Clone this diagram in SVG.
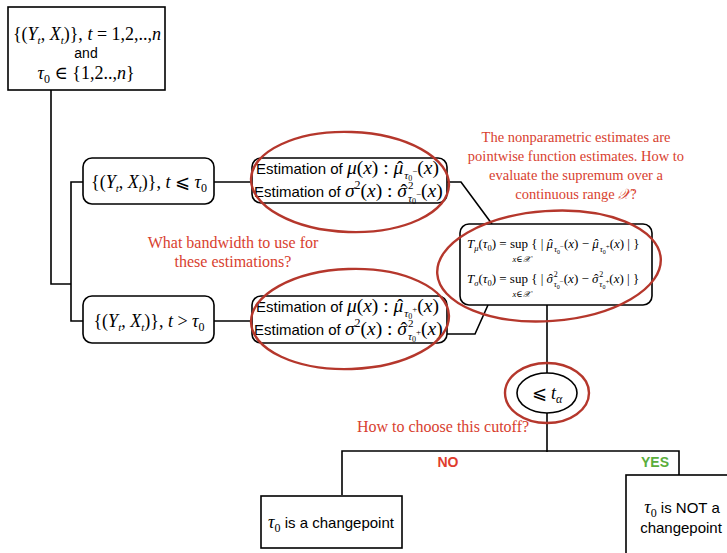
<svg xmlns="http://www.w3.org/2000/svg" width="727" height="553" viewBox="0 0 727 553">
<style>
.box{fill:#fff;stroke:#000;stroke-width:1.6}
.ln{fill:none;stroke:#000;stroke-width:1.6}
.red{fill:none;stroke:#b5372c;stroke-width:2.4}
.s{font-family:"Liberation Sans",Arial,sans-serif}
.r{font-family:"Liberation Serif","DejaVu Serif",serif;font-style:normal}
.m{font-family:"Liberation Serif","DejaVu Serif",serif;font-style:italic}
.note{font-family:"Liberation Serif","DejaVu Serif",serif;font-size:14.5px;fill:#d8412f;text-anchor:middle}
.note2{font-family:"Liberation Serif","DejaVu Serif",serif;font-size:16px;fill:#d8412f;text-anchor:middle}
</style>
<rect width="727" height="553" fill="#fff"/>
<g id="connectors">
<path class="ln" d="M51,90 V284 H71"/>
<path class="ln" d="M83,182 H71 V321 H83"/>
<path class="ln" d="M214,182 H252"/>
<path class="ln" d="M214,321 H252"/>
<path class="ln" d="M447,182 H461 L492,224"/>
<path class="ln" d="M447,334 H475 L488,305"/>
<path class="ln" d="M547,305 V373"/>
<path class="ln" d="M547,413 V452"/>
<path class="ln" d="M342,495 V451 H679 V475"/>
</g>
<g id="start">
<rect class="box" x="8" y="7" width="157" height="83"/>
<text x="87" y="40" text-anchor="middle" class="r" font-size="18">{(<tspan class="m">Y</tspan><tspan class="m" font-size="11" dy="4">t</tspan><tspan dy="-4">, </tspan><tspan class="m">X</tspan><tspan class="m" font-size="11" dy="4">t</tspan><tspan dy="-4">)}, </tspan><tspan class="m">t</tspan> = 1,2,..,<tspan class="m">n</tspan></text>
<text x="86" y="58" text-anchor="middle" class="s" font-size="14">and</text>
<text x="86" y="79" text-anchor="middle" class="r" font-size="18"><tspan class="m">τ</tspan><tspan font-size="12" dy="4">0</tspan><tspan dy="-4"> ∈ {1,2..,</tspan><tspan class="m">n</tspan>}</text>
</g>
<g id="before">
<rect class="box" x="83" y="158" width="131" height="46" rx="9"/>
<text x="149" y="188" text-anchor="middle" class="r" font-size="18">{(<tspan class="m">Y</tspan><tspan class="m" font-size="11" dy="4">t</tspan><tspan dy="-4">, </tspan><tspan class="m">X</tspan><tspan class="m" font-size="11" dy="4">t</tspan><tspan dy="-4">)}, </tspan><tspan class="m">t</tspan> ⩽ <tspan class="m">τ</tspan><tspan font-size="12" dy="4">0</tspan></text>
</g>
<g id="after">
<rect class="box" x="83" y="296" width="131" height="47" rx="9"/>
<text x="149" y="327" text-anchor="middle" class="r" font-size="18">{(<tspan class="m">Y</tspan><tspan class="m" font-size="11" dy="4">t</tspan><tspan dy="-4">, </tspan><tspan class="m">X</tspan><tspan class="m" font-size="11" dy="4">t</tspan><tspan dy="-4">)}, </tspan><tspan class="m">t</tspan> &gt; <tspan class="m">τ</tspan><tspan font-size="12" dy="4">0</tspan></text>
</g>
<g id="est-before">
<rect class="box" x="252" y="158" width="195" height="45" rx="9"/>
<text x="256" y="174" class="s" font-size="15">Estimation of <tspan class="m" font-size="19.5">μ</tspan><tspan class="r" font-size="19.5">(</tspan><tspan class="m" font-size="19.5">x</tspan><tspan class="r" font-size="19.5">) : </tspan><tspan class="m" font-size="19.5">μ</tspan><tspan class="r" font-size="19.5" dx="-6.5">ˆ</tspan><tspan class="m" font-size="11" dx="1" dy="5">τ</tspan><tspan class="r" font-size="8" dy="2">0</tspan><tspan class="r" font-size="9" dy="-7">−</tspan><tspan class="r" font-size="19.5">(</tspan><tspan class="m" font-size="19.5">x</tspan><tspan class="r" font-size="19.5">)</tspan></text>
<text x="254" y="197" class="s" font-size="15">Estimation of <tspan class="m" font-size="19.5">σ</tspan><tspan class="r" font-size="12" dy="-8">2</tspan><tspan class="r" font-size="19.5" dy="8">(</tspan><tspan class="m" font-size="19.5">x</tspan><tspan class="r" font-size="19.5">) : </tspan><tspan class="m" font-size="19.5">σ</tspan><tspan class="r" font-size="19.5" dx="-6.5">ˆ</tspan><tspan class="r" font-size="11" dx="1" dy="-8">2</tspan><tspan class="m" font-size="11" dx="-5.5" dy="13">τ</tspan><tspan class="r" font-size="8" dy="2">0</tspan><tspan class="r" font-size="9" dy="-7">−</tspan><tspan class="r" font-size="19.5">(</tspan><tspan class="m" font-size="19.5">x</tspan><tspan class="r" font-size="19.5">)</tspan></text>
</g>
<g id="est-after">
<rect class="box" x="252" y="296" width="195" height="47" rx="9"/>
<text x="256" y="312" class="s" font-size="15">Estimation of <tspan class="m" font-size="19.5">μ</tspan><tspan class="r" font-size="19.5">(</tspan><tspan class="m" font-size="19.5">x</tspan><tspan class="r" font-size="19.5">) : </tspan><tspan class="m" font-size="19.5">μ</tspan><tspan class="r" font-size="19.5" dx="-6.5">ˆ</tspan><tspan class="m" font-size="11" dx="1" dy="5">τ</tspan><tspan class="r" font-size="8" dy="2">0</tspan><tspan class="r" font-size="9" dy="-7">+</tspan><tspan class="r" font-size="19.5">(</tspan><tspan class="m" font-size="19.5">x</tspan><tspan class="r" font-size="19.5">)</tspan></text>
<text x="254" y="335" class="s" font-size="15">Estimation of <tspan class="m" font-size="19.5">σ</tspan><tspan class="r" font-size="12" dy="-8">2</tspan><tspan class="r" font-size="19.5" dy="8">(</tspan><tspan class="m" font-size="19.5">x</tspan><tspan class="r" font-size="19.5">) : </tspan><tspan class="m" font-size="19.5">σ</tspan><tspan class="r" font-size="19.5" dx="-6.5">ˆ</tspan><tspan class="r" font-size="11" dx="1" dy="-8">2</tspan><tspan class="m" font-size="11" dx="-5.5" dy="13">τ</tspan><tspan class="r" font-size="8" dy="2">0</tspan><tspan class="r" font-size="9" dy="-7">+</tspan><tspan class="r" font-size="19.5">(</tspan><tspan class="m" font-size="19.5">x</tspan><tspan class="r" font-size="19.5">)</tspan></text>
</g>
<g id="stats">
<rect class="box" x="460" y="224" width="192" height="81" rx="9"/>
<text x="467" y="248" class="r" font-size="13"><tspan class="m">T</tspan><tspan class="m" font-size="8.5" dy="3">μ</tspan><tspan dy="-3">(</tspan><tspan class="m">τ</tspan><tspan font-size="8.5" dy="3">0</tspan><tspan dy="-3">) = sup { | </tspan><tspan class="m">μ</tspan><tspan dx="-4.5">ˆ</tspan><tspan class="m" font-size="8.5" dx="1" dy="4">τ</tspan><tspan font-size="6" dy="2">0</tspan><tspan font-size="7" dy="-5">−</tspan><tspan dy="-1">(</tspan><tspan class="m">x</tspan><tspan>) − </tspan><tspan class="m">μ</tspan><tspan dx="-4.5">ˆ</tspan><tspan class="m" font-size="8.5" dx="1" dy="4">τ</tspan><tspan font-size="6" dy="2">0</tspan><tspan font-size="7" dy="-5">+</tspan><tspan dy="-1">(</tspan><tspan class="m">x</tspan><tspan>) | }</tspan></text>
<text x="521" y="262" class="m" font-size="8.5" text-anchor="middle">x<tspan class="r">∈</tspan>𝒳</text>
<text x="467" y="283" class="r" font-size="13"><tspan class="m">T</tspan><tspan class="m" font-size="8.5" dy="3">σ</tspan><tspan dy="-3">(</tspan><tspan class="m">τ</tspan><tspan font-size="8.5" dy="3">0</tspan><tspan dy="-3">) = sup { | </tspan><tspan class="m">σ</tspan><tspan dx="-4.5">ˆ</tspan><tspan font-size="8" dx="1" dy="-6">2</tspan><tspan class="m" font-size="8.5" dx="-4" dy="10">τ</tspan><tspan font-size="6" dy="2">0</tspan><tspan font-size="7" dy="-5">−</tspan><tspan dy="-1">(</tspan><tspan class="m">x</tspan><tspan>) − </tspan><tspan class="m">σ</tspan><tspan dx="-4.5">ˆ</tspan><tspan font-size="8" dx="1" dy="-6">2</tspan><tspan class="m" font-size="8.5" dx="-4" dy="10">τ</tspan><tspan font-size="6" dy="2">0</tspan><tspan font-size="7" dy="-5">+</tspan><tspan dy="-1">(</tspan><tspan class="m">x</tspan><tspan>) | }</tspan></text>
<text x="521" y="297" class="m" font-size="8.5" text-anchor="middle">x<tspan class="r">∈</tspan>𝒳</text>
</g>
<g id="threshold">
<ellipse class="box" cx="547" cy="393" rx="30" ry="20"/>
<text x="547" y="399" text-anchor="middle" class="r" font-size="18">⩽ <tspan class="m">t</tspan><tspan class="m" font-size="12" dy="4">α</tspan></text>
</g>
<g id="changepoint">
<rect class="box" x="261" y="496" width="141" height="52"/>
<text x="331" y="528" text-anchor="middle" class="s" font-size="15"><tspan class="m" font-size="18">τ</tspan><tspan class="r" font-size="12" dy="4">0</tspan><tspan dy="-4"> is a changepoint</tspan></text>
</g>
<g id="not-changepoint">
<rect class="box" x="626" y="475" width="110" height="90"/>
<text x="682" y="513" text-anchor="middle" class="s" font-size="15"><tspan class="m" font-size="18">τ</tspan><tspan class="r" font-size="12" dy="4">0</tspan><tspan dy="-4"> is NOT a</tspan></text>
<text x="681" y="533" text-anchor="middle" class="s" font-size="15">changepoint</text>
</g>
<g id="labels">
<text x="448" y="467" text-anchor="middle" class="s" font-size="14" font-weight="bold" fill="#e03c2c">NO</text>
<text x="655" y="467" text-anchor="middle" class="s" font-size="14" font-weight="bold" fill="#5aae3c">YES</text>
</g>
<g id="annotations">
<ellipse class="red" cx="350" cy="182" rx="99" ry="50" transform="rotate(2 350 182)"/>
<ellipse class="red" cx="350" cy="319" rx="99" ry="50" transform="rotate(-2 350 319)"/>
<ellipse class="red" cx="549" cy="266" rx="112" ry="55" transform="rotate(-4 549 266)"/>
<ellipse class="red" cx="547" cy="393" rx="42" ry="30"/>
<text class="note" x="576" y="142">The nonparametric estimates are</text>
<text class="note" x="576" y="161">pointwise function estimates. How to</text>
<text class="note" x="576" y="180">evaluate the supremum over a</text>
<text class="note" x="576" y="199">continuous range <tspan class="m">𝒳</tspan>?</text>
<text class="note2" x="233" y="248">What bandwidth to use for</text>
<text class="note2" x="233" y="267">these estimations?</text>
<text class="note2" x="443" y="432">How to choose this cutoff?</text>
</g>
</svg>
